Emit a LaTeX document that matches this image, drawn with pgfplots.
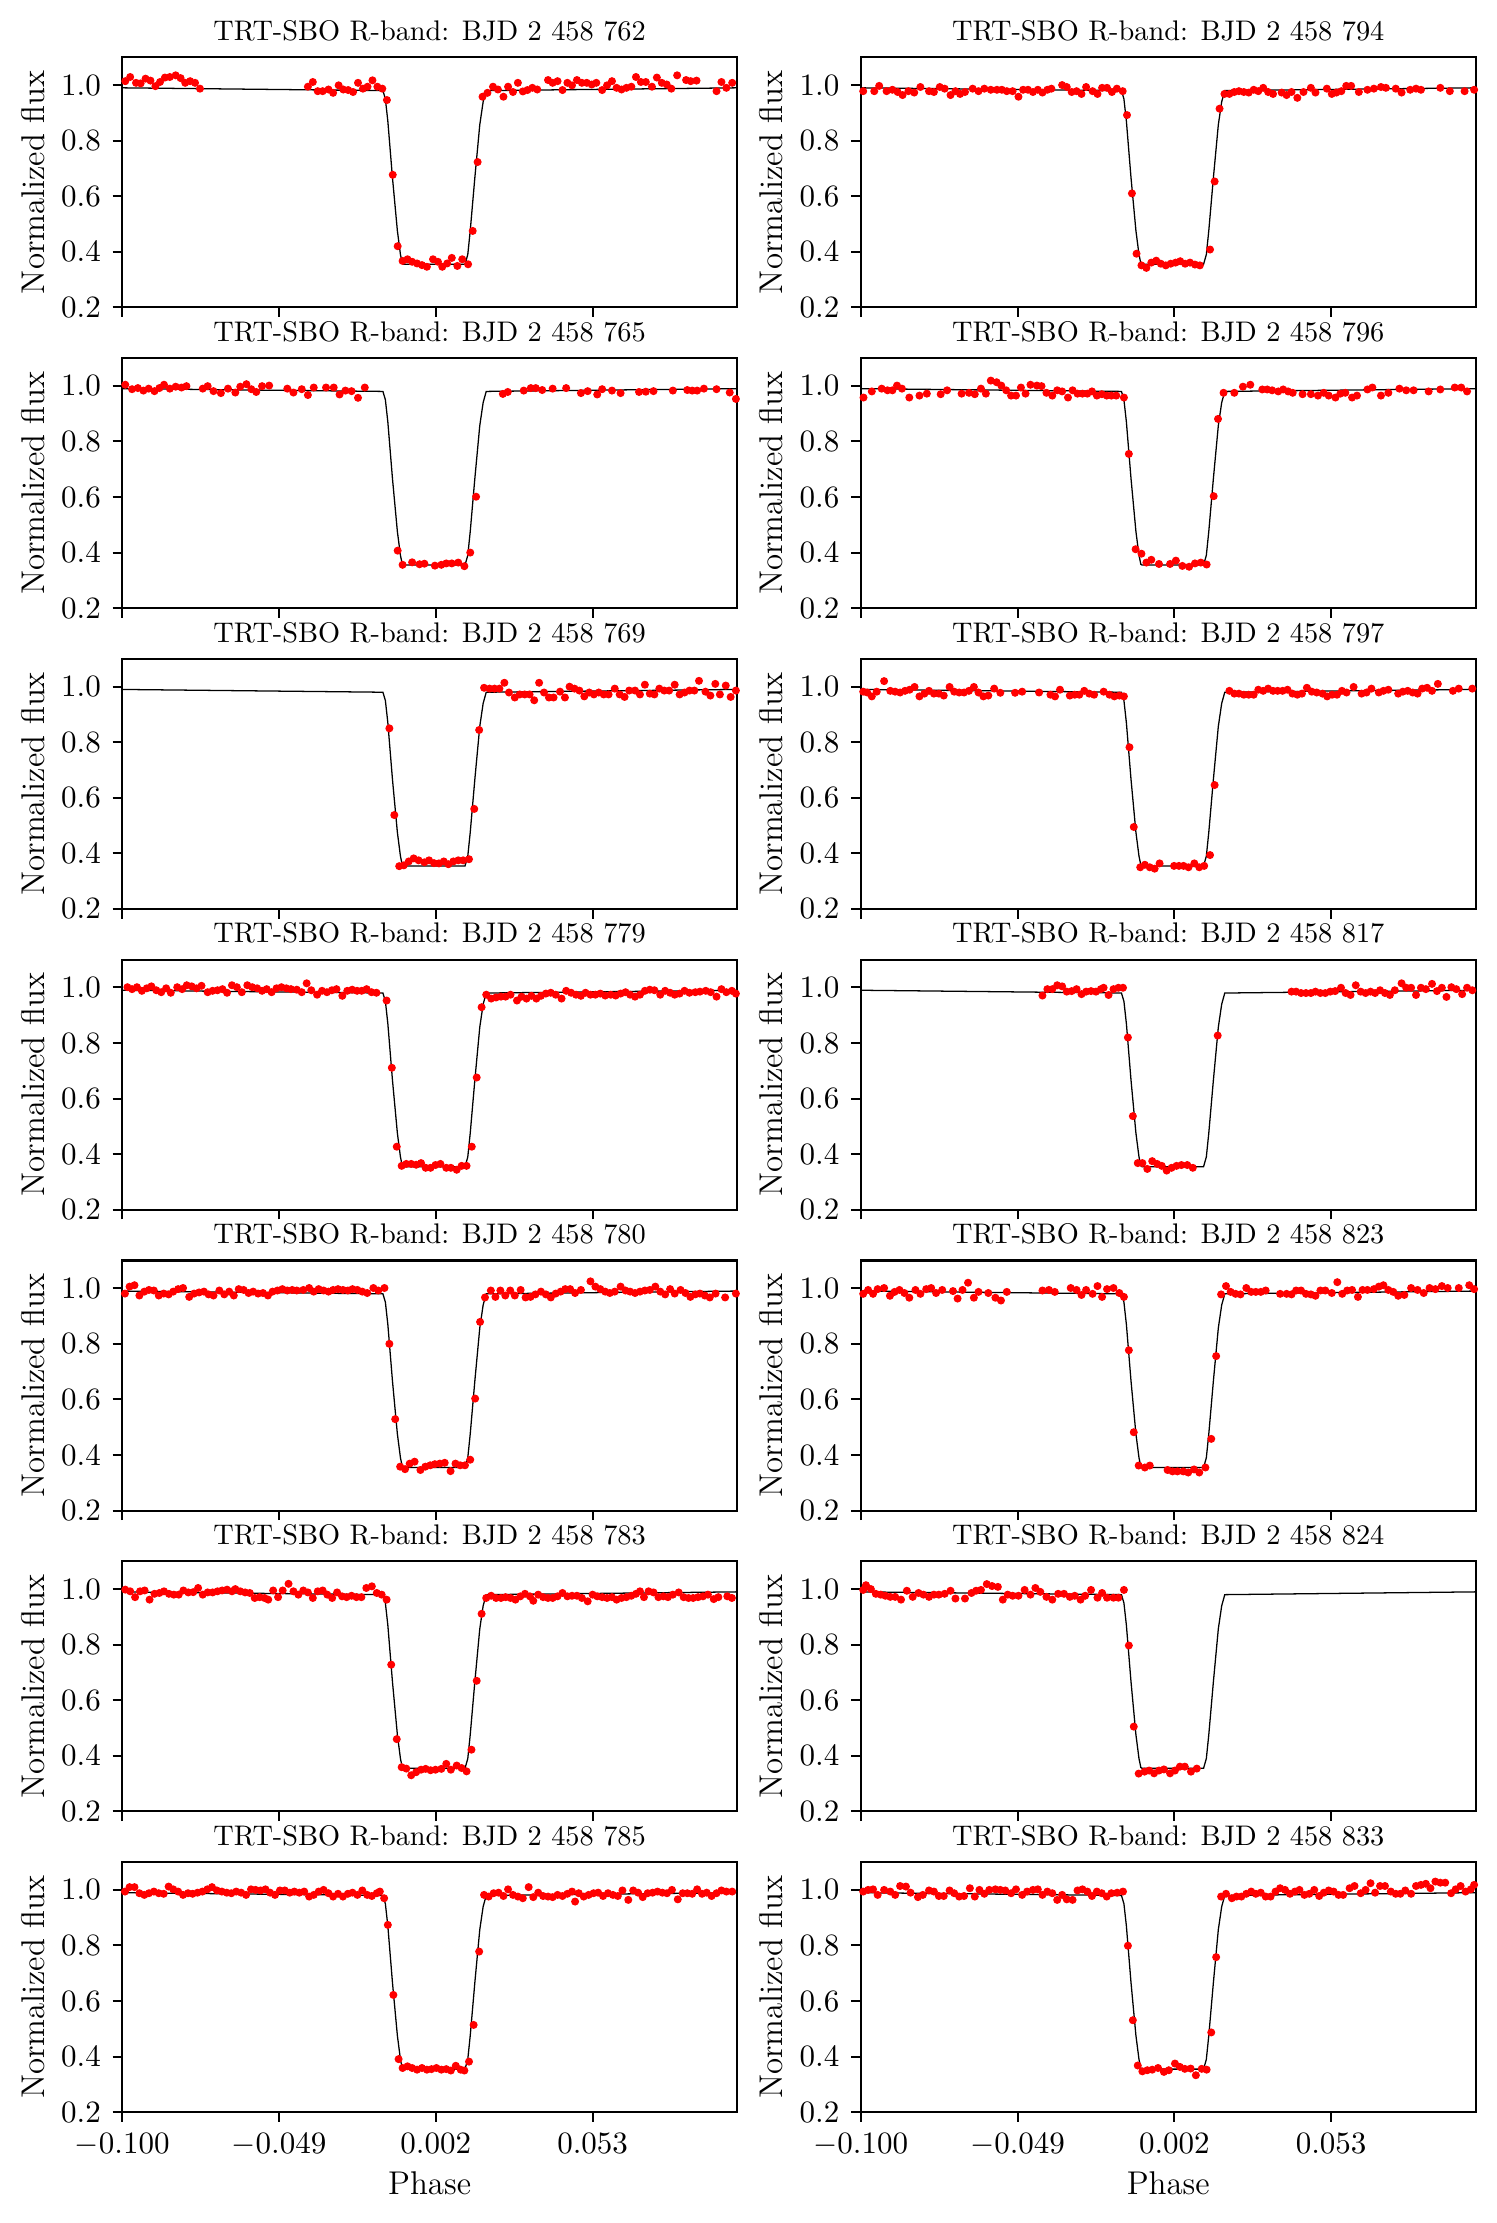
\documentclass[border=0pt]{standalone}
\usepackage{pgfplots}
\pgfplotsset{compat=1.18}
\usepackage{pgfplotstable}

\pgfplotstableread{
x y
-0.1000 0.990
-0.0152 0.980
-0.0144 0.950
-0.0136 0.870
-0.0121 0.667
-0.0105 0.476
-0.0095 0.390
-0.0089 0.358
-0.0085 0.355
0.0115 0.355
0.0124 0.390
0.0132 0.476
0.0147 0.667
0.0163 0.857
0.0174 0.940
0.0184 0.980
0.1000 0.990
}\model

% 762
\pgfplotstableread{
x y
-0.0990 1.014
-0.0974 1.029
-0.0955 1.008
-0.0940 1.006
-0.0924 1.023
-0.0908 1.016
-0.0892 0.996
-0.0877 1.011
-0.0861 1.027
-0.0845 1.029
-0.0826 1.035
-0.0810 1.025
-0.0795 1.008
-0.0779 1.014
-0.0763 1.008
-0.0747 0.987
-0.0396 0.994
-0.0380 1.011
-0.0364 0.978
-0.0348 0.978
-0.0329 0.984
-0.0314 0.972
-0.0296 0.999
-0.0281 0.984
-0.0265 0.982
-0.0249 0.975
-0.0233 1.008
-0.0217 0.987
-0.0202 0.994
-0.0186 1.017
-0.0170 0.994
-0.0154 0.987
-0.0139 0.946
-0.0120 0.677
-0.0104 0.420
-0.0088 0.367
-0.0072 0.373
-0.0057 0.364
-0.0041 0.358
-0.0025 0.352
-0.0009 0.346
0.0011 0.373
0.0027 0.364
0.0041 0.346
0.0057 0.358
0.0072 0.378
0.0090 0.349
0.0106 0.373
0.0125 0.355
0.0140 0.475
0.0156 0.723
0.0172 0.958
0.0188 0.972
0.0206 0.994
0.0222 0.984
0.0240 0.958
0.0255 0.994
0.0271 0.975
0.0287 1.008
0.0303 0.977
0.0318 0.982
0.0334 0.990
0.0350 0.984
0.0385 1.018
0.0400 1.008
0.0416 1.014
0.0432 0.982
0.0448 1.008
0.0463 0.999
0.0479 1.018
0.0495 1.008
0.0511 1.008
0.0527 1.002
0.0542 1.008
0.0561 0.982
0.0577 0.999
0.0593 1.014
0.0608 0.990
0.0624 0.984
0.0640 0.990
0.0656 0.994
0.0671 1.029
0.0687 1.011
0.0703 1.011
0.0723 0.994
0.0739 1.027
0.0755 1.008
0.0771 1.002
0.0786 0.987
0.0805 1.035
0.0834 1.018
0.0849 1.014
0.0868 1.016
0.0933 0.978
0.0949 1.011
0.0965 0.990
0.0984 1.008
}\tA

% 765
\pgfplotstableread{
x y
-0.0990 1.004
-0.0968 0.988
-0.0949 0.992
-0.0931 0.983
-0.0914 0.990
-0.0895 0.981
-0.0879 0.992
-0.0864 1.004
-0.0845 0.990
-0.0826 0.997
-0.0807 0.994
-0.0791 0.999
-0.0738 0.990
-0.0722 0.999
-0.0703 0.981
-0.0679 0.974
-0.0656 0.990
-0.0632 0.976
-0.0616 0.997
-0.0596 1.006
-0.0580 0.988
-0.0564 0.978
-0.0545 0.999
-0.0522 1.001
-0.0463 0.990
-0.0443 0.976
-0.0416 0.988
-0.0396 0.967
-0.0377 0.994
-0.0337 0.994
-0.0312 0.994
-0.0293 0.969
-0.0274 0.983
-0.0254 0.981
-0.0233 0.957
-0.0211 0.994
-0.0104 0.407
-0.0088 0.356
-0.0057 0.365
-0.0033 0.358
-0.0017 0.360
0.0017 0.353
0.0038 0.356
0.0054 0.361
0.0072 0.361
0.0093 0.364
0.0113 0.351
0.0132 0.400
0.0151 0.601
0.0238 0.971
0.0254 0.978
0.0306 0.983
0.0329 0.992
0.0345 0.992
0.0366 0.985
0.0400 0.990
0.0444 0.992
0.0492 0.974
0.0514 0.981
0.0545 0.969
0.0561 0.988
0.0593 0.983
0.0621 0.974
0.0681 0.978
0.0703 0.979
0.0728 0.981
0.0791 0.983
0.0838 0.985
0.0854 0.983
0.0870 0.983
0.0892 0.990
0.0933 0.988
0.0976 0.976
0.0996 0.953
}\tB

% 769
\pgfplotstableread{
x y
-0.0131 0.850
-0.0115 0.538
-0.0099 0.354
-0.0084 0.357
-0.0068 0.371
-0.0052 0.382
-0.0036 0.375
-0.0017 0.368
-0.0002 0.375
0.0014 0.365
0.0030 0.364
0.0046 0.371
0.0061 0.361
0.0077 0.371
0.0093 0.375
0.0109 0.375
0.0128 0.379
0.0145 0.560
0.0161 0.844
0.0177 0.996
0.0195 0.993
0.0211 0.993
0.0227 0.993
0.0243 1.014
0.0258 0.979
0.0277 0.961
0.0293 0.972
0.0309 0.972
0.0325 0.972
0.0340 0.951
0.0356 1.014
0.0372 0.979
0.0388 0.961
0.0403 0.961
0.0424 0.982
0.0440 0.961
0.0455 1.000
0.0471 0.993
0.0487 0.986
0.0503 0.965
0.0519 0.979
0.0534 0.972
0.0550 0.979
0.0566 0.972
0.0582 0.972
0.0602 0.993
0.0618 0.972
0.0634 0.963
0.0649 0.986
0.0668 0.986
0.0684 0.972
0.0700 1.007
0.0716 0.975
0.0731 0.972
0.0747 0.993
0.0763 0.986
0.0779 0.986
0.0797 1.007
0.0813 0.972
0.0829 0.979
0.0845 0.986
0.0861 0.986
0.0876 1.021
0.0897 0.982
0.0913 0.968
0.0929 1.010
0.0944 0.972
0.0963 1.004
0.0979 0.963
0.0996 0.986
}\tC

% 779
\pgfplotstableread{
x y
-0.0983 1.001
-0.0968 0.994
-0.0952 1.001
-0.0936 0.988
-0.0920 0.997
-0.0905 1.004
-0.0889 0.990
-0.0873 0.983
-0.0857 0.997
-0.0842 0.981
-0.0821 1.001
-0.0805 0.994
-0.0790 1.008
-0.0774 1.004
-0.0758 0.997
-0.0742 1.006
-0.0722 0.983
-0.0706 0.988
-0.0690 0.990
-0.0674 0.994
-0.0659 0.981
-0.0643 1.008
-0.0627 1.001
-0.0611 0.983
-0.0593 1.008
-0.0577 1.001
-0.0561 0.997
-0.0545 0.988
-0.0530 0.994
-0.0514 0.983
-0.0498 0.997
-0.0482 1.001
-0.0466 0.997
-0.0451 0.994
-0.0432 0.992
-0.0416 0.983
-0.0400 1.015
-0.0385 0.990
-0.0366 0.974
-0.0350 0.988
-0.0334 0.983
-0.0318 0.990
-0.0303 0.994
-0.0284 0.970
-0.0268 0.988
-0.0252 0.992
-0.0236 0.988
-0.0221 0.988
-0.0205 0.994
-0.0189 0.983
-0.0173 0.981
-0.0140 0.953
-0.0123 0.711
-0.0107 0.427
-0.0091 0.358
-0.0076 0.365
-0.0060 0.365
-0.0044 0.362
-0.0028 0.368
-0.0013 0.351
0.0003 0.351
0.0019 0.361
0.0035 0.365
0.0054 0.351
0.0069 0.351
0.0088 0.344
0.0104 0.358
0.0120 0.358
0.0137 0.427
0.0153 0.676
0.0169 0.929
0.0184 0.974
0.0200 0.960
0.0216 0.964
0.0232 0.967
0.0247 0.967
0.0263 0.974
0.0284 0.953
0.0299 0.967
0.0315 0.960
0.0331 0.970
0.0347 0.960
0.0362 0.970
0.0378 0.978
0.0394 0.981
0.0410 0.974
0.0429 0.960
0.0444 0.988
0.0460 0.981
0.0476 0.974
0.0492 0.970
0.0507 0.981
0.0523 0.974
0.0539 0.974
0.0555 0.978
0.0571 0.971
0.0589 0.974
0.0605 0.971
0.0621 0.978
0.0637 0.983
0.0652 0.974
0.0668 0.967
0.0684 0.974
0.0700 0.988
0.0716 0.992
0.0731 0.990
0.0750 0.974
0.0766 0.988
0.0782 0.981
0.0797 0.974
0.0813 0.978
0.0829 0.988
0.0845 0.981
0.0864 0.983
0.0879 0.985
0.0898 0.988
0.0914 0.983
0.0933 0.967
0.0949 0.994
0.0965 0.983
0.0983 0.988
0.0996 0.978
}\tD

% 780
\pgfplotstableread{
x y
-0.0991 0.981
-0.0976 1.006
-0.0960 1.011
-0.0944 0.974
-0.0928 0.988
-0.0913 0.994
-0.0897 0.992
-0.0881 0.974
-0.0865 0.981
-0.0849 0.978
-0.0834 0.988
-0.0818 0.997
-0.0802 1.001
-0.0782 0.969
-0.0766 0.981
-0.0750 0.985
-0.0734 0.988
-0.0719 0.978
-0.0703 0.974
-0.0684 0.992
-0.0668 0.978
-0.0652 0.988
-0.0637 0.974
-0.0621 0.997
-0.0605 0.994
-0.0589 0.983
-0.0574 0.988
-0.0558 0.981
-0.0542 0.983
-0.0526 0.974
-0.0511 0.988
-0.0495 0.992
-0.0479 0.997
-0.0463 0.992
-0.0447 0.994
-0.0432 0.992
-0.0411 0.994
-0.0392 1.001
-0.0377 0.988
-0.0361 0.997
-0.0345 0.992
-0.0329 0.988
-0.0314 0.994
-0.0298 0.997
-0.0282 0.994
-0.0266 0.992
-0.0251 0.997
-0.0235 0.994
-0.0219 0.988
-0.0203 0.983
-0.0183 1.001
-0.0167 0.992
-0.0147 1.001
-0.0131 0.800
-0.0112 0.529
-0.0096 0.358
-0.0080 0.349
-0.0065 0.369
-0.0049 0.376
-0.0030 0.346
-0.0014 0.358
0.0002 0.363
0.0017 0.367
0.0033 0.369
0.0049 0.372
0.0068 0.342
0.0084 0.369
0.0099 0.363
0.0115 0.363
0.0132 0.383
0.0148 0.603
0.0164 0.879
0.0180 0.967
0.0199 0.992
0.0214 0.969
0.0230 0.992
0.0246 0.974
0.0262 0.992
0.0277 0.974
0.0296 0.994
0.0312 0.967
0.0328 0.969
0.0344 0.978
0.0362 0.988
0.0378 0.978
0.0394 0.967
0.0410 0.981
0.0426 0.988
0.0441 0.997
0.0457 0.997
0.0473 0.983
0.0492 0.994
0.0523 1.025
0.0539 1.006
0.0555 0.997
0.0571 0.988
0.0586 0.983
0.0602 0.988
0.0621 1.006
0.0637 0.992
0.0652 0.988
0.0668 0.983
0.0684 0.988
0.0700 0.992
0.0716 0.994
0.0734 1.006
0.0750 0.988
0.0766 0.978
0.0782 0.997
0.0797 0.981
0.0816 0.994
0.0832 0.983
0.0848 0.969
0.0864 0.978
0.0879 0.981
0.0895 0.974
0.0911 0.967
0.0930 0.981
0.0961 0.967
0.0996 0.981
}\tE

% 783
\pgfplotstableread{
x y
-0.0990 0.998
-0.0974 0.992
-0.0958 0.971
-0.0942 0.992
-0.0927 0.995
-0.0911 0.962
-0.0895 0.983
-0.0879 0.986
-0.0864 0.992
-0.0848 0.983
-0.0832 0.980
-0.0816 0.980
-0.0801 0.995
-0.0785 0.988
-0.0769 0.989
-0.0753 1.004
-0.0738 0.980
-0.0722 0.988
-0.0706 0.988
-0.0690 0.992
-0.0675 0.995
-0.0659 0.998
-0.0643 0.992
-0.0632 1.000
-0.0616 0.992
-0.0600 0.988
-0.0585 0.986
-0.0569 0.968
-0.0553 0.971
-0.0537 0.968
-0.0525 0.962
-0.0509 0.995
-0.0493 0.971
-0.0478 0.995
-0.0459 1.019
-0.0443 0.992
-0.0427 0.980
-0.0411 0.995
-0.0396 0.988
-0.0380 0.968
-0.0364 0.992
-0.0348 0.995
-0.0333 0.980
-0.0317 0.968
-0.0301 0.988
-0.0285 0.974
-0.0270 0.971
-0.0254 0.976
-0.0238 0.971
-0.0222 0.971
-0.0206 1.004
-0.0188 1.010
-0.0172 0.986
-0.0156 0.980
-0.0140 0.962
-0.0125 0.728
-0.0107 0.460
-0.0091 0.359
-0.0076 0.354
-0.0060 0.330
-0.0044 0.341
-0.0028 0.350
-0.0013 0.353
0.0003 0.348
0.0019 0.350
0.0038 0.353
0.0054 0.371
0.0069 0.350
0.0088 0.365
0.0104 0.356
0.0120 0.344
0.0136 0.422
0.0153 0.670
0.0169 0.911
0.0184 0.968
0.0200 0.976
0.0216 0.968
0.0232 0.968
0.0247 0.971
0.0263 0.968
0.0279 0.962
0.0295 0.974
0.0310 0.983
0.0326 0.974
0.0337 0.958
0.0353 0.980
0.0369 0.971
0.0385 0.968
0.0400 0.968
0.0416 0.974
0.0432 0.986
0.0448 0.974
0.0463 0.976
0.0479 0.976
0.0495 0.968
0.0514 0.956
0.0530 0.980
0.0545 0.974
0.0561 0.971
0.0577 0.968
0.0593 0.971
0.0608 0.962
0.0624 0.968
0.0640 0.971
0.0656 0.976
0.0671 0.983
0.0684 0.992
0.0697 0.971
0.0712 0.992
0.0728 0.988
0.0744 0.971
0.0760 0.974
0.0775 0.971
0.0791 0.980
0.0810 0.988
0.0826 0.971
0.0842 0.968
0.0857 0.968
0.0873 0.971
0.0889 0.974
0.0905 0.980
0.0924 0.964
0.0939 0.971
0.0968 0.974
0.0983 0.968
}\tF

% 785
\pgfplotstableread{
x y
-0.0991 0.994
-0.0976 1.010
-0.0960 1.010
-0.0944 0.988
-0.0928 0.982
-0.0913 0.988
-0.0897 0.994
-0.0881 0.988
-0.0865 0.986
-0.0849 1.012
-0.0834 1.002
-0.0818 0.994
-0.0802 0.982
-0.0786 0.988
-0.0771 0.986
-0.0755 0.990
-0.0739 0.994
-0.0723 1.002
-0.0708 1.010
-0.0692 0.998
-0.0676 0.994
-0.0660 0.990
-0.0645 0.988
-0.0629 0.994
-0.0613 0.990
-0.0597 0.982
-0.0581 1.002
-0.0566 1.000
-0.0550 0.998
-0.0534 1.002
-0.0519 0.990
-0.0503 0.982
-0.0487 0.998
-0.0471 0.998
-0.0455 0.990
-0.0440 0.994
-0.0424 0.990
-0.0408 0.994
-0.0392 0.976
-0.0377 0.982
-0.0361 0.994
-0.0345 1.000
-0.0329 0.988
-0.0314 0.976
-0.0298 0.986
-0.0282 0.976
-0.0266 0.986
-0.0251 0.990
-0.0235 0.982
-0.0219 0.998
-0.0203 0.982
-0.0188 0.978
-0.0172 0.988
-0.0162 0.994
-0.0148 0.970
-0.0136 0.874
-0.0118 0.622
-0.0101 0.391
-0.0088 0.359
-0.0072 0.365
-0.0057 0.359
-0.0041 0.353
-0.0025 0.359
-0.0009 0.353
0.0006 0.355
0.0022 0.359
0.0038 0.353
0.0054 0.355
0.0069 0.350
0.0085 0.367
0.0101 0.353
0.0113 0.350
0.0128 0.382
0.0143 0.514
0.0161 0.778
0.0177 0.982
0.0192 0.976
0.0208 0.988
0.0224 0.990
0.0240 0.978
0.0255 1.002
0.0271 0.982
0.0287 0.976
0.0303 0.970
0.0322 1.010
0.0337 0.974
0.0353 0.990
0.0369 0.978
0.0385 0.976
0.0400 0.974
0.0416 0.982
0.0432 0.978
0.0448 0.986
0.0463 0.994
0.0473 0.958
0.0485 0.988
0.0501 0.976
0.0517 0.982
0.0533 0.988
0.0548 0.990
0.0564 0.978
0.0580 0.988
0.0596 0.982
0.0612 0.978
0.0627 0.998
0.0646 0.964
0.0662 0.998
0.0678 0.990
0.0693 0.974
0.0709 0.988
0.0725 0.990
0.0741 0.994
0.0757 0.990
0.0772 0.988
0.0788 1.000
0.0807 0.966
0.0823 0.988
0.0838 0.988
0.0854 0.986
0.0870 1.002
0.0886 0.986
0.0901 0.990
0.0917 0.978
0.0933 0.988
0.0949 0.998
0.0965 0.994
0.0984 0.994
}\tG

% 794
\pgfplotstableread{
x y
-0.0992 0.978
-0.0956 0.978
-0.0940 0.997
-0.0916 0.978
-0.0897 0.983
-0.0880 0.975
-0.0864 0.964
-0.0845 0.978
-0.0826 0.973
-0.0806 0.993
-0.0778 0.978
-0.0762 0.975
-0.0743 0.993
-0.0727 0.987
-0.0708 0.964
-0.0692 0.978
-0.0677 0.968
-0.0661 0.975
-0.0636 0.987
-0.0617 0.978
-0.0598 0.987
-0.0577 0.983
-0.0557 0.983
-0.0541 0.983
-0.0525 0.978
-0.0506 0.978
-0.0487 0.958
-0.0472 0.983
-0.0456 0.983
-0.0440 0.975
-0.0424 0.983
-0.0409 0.973
-0.0393 0.983
-0.0380 0.987
-0.0345 1.000
-0.0330 0.993
-0.0314 0.975
-0.0298 0.978
-0.0282 0.968
-0.0267 0.993
-0.0246 0.978
-0.0230 0.968
-0.0215 0.990
-0.0199 0.990
-0.0183 0.975
-0.0167 0.987
-0.0148 0.978
-0.0134 0.892
-0.0118 0.610
-0.0103 0.393
-0.0087 0.351
-0.0071 0.342
-0.0055 0.361
-0.0039 0.368
-0.0024 0.357
-0.0008 0.351
0.0008 0.357
0.0024 0.361
0.0039 0.366
0.0055 0.357
0.0071 0.361
0.0087 0.354
0.0103 0.351
0.0136 0.408
0.0151 0.653
0.0167 0.915
0.0183 0.968
0.0199 0.968
0.0215 0.975
0.0230 0.978
0.0246 0.975
0.0262 0.973
0.0278 0.983
0.0293 0.978
0.0309 0.990
0.0325 0.975
0.0341 0.968
0.0369 0.973
0.0385 0.964
0.0401 0.975
0.0420 0.954
0.0440 0.975
0.0464 0.990
0.0479 0.973
0.0516 0.987
0.0532 0.968
0.0547 0.973
0.0563 0.978
0.0579 0.997
0.0595 0.997
0.0620 0.975
0.0648 0.983
0.0669 0.987
0.0692 0.993
0.0708 0.990
0.0740 0.987
0.0759 0.973
0.0787 0.983
0.0806 0.987
0.0822 0.983
0.0885 0.990
0.0916 0.978
0.0964 0.978
0.0995 0.983
}\tH

% 796
\pgfplotstableread{
x y
-0.0991 0.958
-0.0964 0.980
-0.0932 0.990
-0.0913 0.984
-0.0897 0.984
-0.0882 1.001
-0.0866 0.990
-0.0842 0.958
-0.0809 0.965
-0.0785 0.972
-0.0740 0.970
-0.0719 0.984
-0.0672 0.972
-0.0648 0.975
-0.0629 0.970
-0.0609 0.990
-0.0593 0.972
-0.0577 1.019
-0.0558 1.013
-0.0543 1.001
-0.0527 0.984
-0.0511 0.965
-0.0495 0.965
-0.0479 0.994
-0.0464 0.972
-0.0448 1.004
-0.0427 1.001
-0.0412 0.999
-0.0396 0.975
-0.0377 0.965
-0.0361 0.984
-0.0345 0.980
-0.0326 0.958
-0.0311 0.984
-0.0295 0.972
-0.0279 0.972
-0.0263 0.972
-0.0248 0.980
-0.0232 0.965
-0.0216 0.970
-0.0200 0.965
-0.0185 0.965
-0.0169 0.965
-0.0144 0.958
-0.0128 0.755
-0.0106 0.412
-0.0087 0.396
-0.0071 0.364
-0.0055 0.374
-0.0030 0.359
0.0006 0.359
0.0025 0.371
0.0046 0.352
0.0068 0.349
0.0087 0.361
0.0106 0.364
0.0125 0.357
0.0148 0.603
0.0162 0.881
0.0180 0.975
0.0215 0.975
0.0243 0.997
0.0267 1.004
0.0306 0.987
0.0322 0.987
0.0338 0.984
0.0358 0.980
0.0374 0.987
0.0390 0.980
0.0405 0.975
0.0437 0.970
0.0464 0.970
0.0487 0.965
0.0506 0.975
0.0522 0.965
0.0544 0.958
0.0560 0.972
0.0576 0.975
0.0598 0.958
0.0614 0.965
0.0648 0.987
0.0664 0.994
0.0692 0.965
0.0716 0.975
0.0752 0.990
0.0774 0.984
0.0798 0.984
0.0847 0.980
0.0885 0.987
0.0932 0.994
0.0953 0.994
0.0972 0.980
}\tI

% 797
\pgfplotstableread{
x y
-0.0992 0.982
-0.0979 0.979
-0.0964 0.965
-0.0948 0.982
-0.0924 1.020
-0.0904 0.985
-0.0888 0.982
-0.0872 0.979
-0.0856 0.985
-0.0841 0.989
-0.0825 0.999
-0.0809 0.965
-0.0793 0.975
-0.0778 0.985
-0.0762 0.975
-0.0746 0.975
-0.0730 0.968
-0.0711 0.999
-0.0696 0.982
-0.0680 0.979
-0.0664 0.979
-0.0648 0.985
-0.0632 0.999
-0.0617 0.979
-0.0601 0.965
-0.0585 0.968
-0.0566 0.993
-0.0546 0.978
-0.0498 0.978
-0.0475 0.982
-0.0420 0.979
-0.0383 0.971
-0.0368 0.965
-0.0352 0.989
-0.0320 0.968
-0.0304 0.971
-0.0289 0.971
-0.0273 0.985
-0.0257 0.975
-0.0241 0.971
-0.0210 0.982
-0.0191 0.971
-0.0175 0.965
-0.0159 0.968
-0.0144 0.965
-0.0126 0.782
-0.0112 0.495
-0.0091 0.350
-0.0076 0.359
-0.0060 0.350
-0.0044 0.345
-0.0028 0.364
0.0019 0.355
0.0035 0.355
0.0050 0.355
0.0066 0.350
0.0085 0.364
0.0101 0.350
0.0117 0.355
0.0136 0.394
0.0151 0.646
0.0199 0.985
0.0215 0.975
0.0230 0.975
0.0246 0.971
0.0262 0.971
0.0278 0.971
0.0293 0.989
0.0309 0.985
0.0325 0.993
0.0341 0.985
0.0356 0.985
0.0372 0.985
0.0388 0.989
0.0404 0.975
0.0420 0.971
0.0435 0.975
0.0451 0.996
0.0467 0.982
0.0483 0.979
0.0502 0.975
0.0517 0.965
0.0533 0.971
0.0549 0.971
0.0565 0.985
0.0580 0.979
0.0603 0.999
0.0629 0.975
0.0645 0.979
0.0661 0.993
0.0685 0.979
0.0700 0.985
0.0716 0.989
0.0748 0.975
0.0763 0.982
0.0779 0.985
0.0795 0.979
0.0811 0.975
0.0826 0.993
0.0842 0.996
0.0858 0.985
0.0877 1.010
0.0926 0.985
0.0945 0.993
0.0989 0.993
}\tJ

% 817
\pgfplotstableread{
x y
-0.0409 0.971
-0.0393 0.994
-0.0377 0.994
-0.0361 1.008
-0.0345 1.004
-0.0330 0.985
-0.0314 0.987
-0.0298 0.994
-0.0282 0.976
-0.0267 0.985
-0.0251 0.987
-0.0235 0.985
-0.0219 0.994
-0.0210 0.999
-0.0194 0.973
-0.0178 0.994
-0.0162 0.999
-0.0147 0.999
-0.0131 0.820
-0.0115 0.537
-0.0099 0.368
-0.0084 0.368
-0.0068 0.347
-0.0052 0.375
-0.0036 0.365
-0.0021 0.358
-0.0005 0.341
0.0011 0.351
0.0027 0.358
0.0043 0.361
0.0062 0.361
0.0080 0.351
0.0161 0.827
0.0401 0.985
0.0416 0.985
0.0432 0.980
0.0448 0.980
0.0464 0.980
0.0479 0.985
0.0495 0.980
0.0511 0.980
0.0527 0.985
0.0543 0.987
0.0562 0.999
0.0577 0.980
0.0593 0.973
0.0610 1.008
0.0626 0.985
0.0642 0.980
0.0658 0.985
0.0673 0.980
0.0689 0.990
0.0705 0.980
0.0721 0.973
0.0737 0.990
0.0759 1.015
0.0774 0.999
0.0790 0.999
0.0806 0.973
0.0822 0.999
0.0838 0.994
0.0858 1.013
0.0874 0.987
0.0890 0.999
0.0905 0.966
0.0921 1.001
0.0937 0.994
0.0956 0.976
0.0972 0.999
0.0989 0.990
}\tK

% 823
\pgfplotstableread{
x y
-0.0992 0.980
-0.0976 0.994
-0.0960 0.980
-0.0945 0.997
-0.0924 1.001
-0.0905 0.973
-0.0890 0.987
-0.0874 0.994
-0.0858 0.983
-0.0842 0.966
-0.0822 0.994
-0.0806 0.980
-0.0787 0.997
-0.0771 1.001
-0.0755 0.983
-0.0735 0.994
-0.0700 0.990
-0.0685 0.963
-0.0669 0.994
-0.0651 1.020
-0.0632 0.966
-0.0617 0.987
-0.0585 0.983
-0.0562 0.966
-0.0544 0.956
-0.0525 0.987
-0.0409 0.992
-0.0388 0.994
-0.0369 0.987
-0.0317 1.001
-0.0298 0.994
-0.0282 0.976
-0.0267 0.994
-0.0246 0.980
-0.0230 1.008
-0.0215 0.969
-0.0199 0.997
-0.0178 1.001
-0.0159 0.983
-0.0144 0.969
-0.0128 0.777
-0.0112 0.482
-0.0096 0.362
-0.0076 0.355
-0.0060 0.362
-0.0002 0.346
0.0014 0.341
0.0030 0.341
0.0049 0.341
0.0065 0.337
0.0084 0.348
0.0101 0.337
0.0121 0.355
0.0140 0.458
0.0156 0.756
0.0172 0.978
0.0188 1.008
0.0203 0.987
0.0219 0.980
0.0235 0.978
0.0254 1.001
0.0270 0.987
0.0285 0.987
0.0301 0.987
0.0317 0.992
0.0364 0.980
0.0385 0.980
0.0401 0.978
0.0416 0.992
0.0432 0.992
0.0448 0.980
0.0464 0.978
0.0479 0.973
0.0495 0.992
0.0511 0.992
0.0532 0.983
0.0550 1.022
0.0566 0.980
0.0582 0.992
0.0598 0.994
0.0617 0.969
0.0632 0.994
0.0648 0.994
0.0669 0.997
0.0685 1.006
0.0700 1.011
0.0716 0.994
0.0732 0.987
0.0748 0.973
0.0768 0.976
0.0790 1.001
0.0811 0.994
0.0831 0.983
0.0850 1.001
0.0869 0.997
0.0890 1.008
0.0909 1.001
0.0945 1.001
0.0979 1.011
0.0995 0.997
}\tL

% 824
\pgfplotstableread{
x y
-0.0992 0.997
-0.0983 1.014
-0.0967 1.000
-0.0951 0.983
-0.0935 0.980
-0.0920 0.976
-0.0904 0.972
-0.0888 0.972
-0.0869 0.962
-0.0850 0.994
-0.0831 0.972
-0.0812 0.986
-0.0796 0.980
-0.0778 0.972
-0.0762 0.980
-0.0746 0.980
-0.0727 0.983
-0.0708 0.994
-0.0692 0.966
-0.0661 0.966
-0.0640 0.986
-0.0625 0.994
-0.0609 0.997
-0.0590 1.018
-0.0573 1.011
-0.0554 1.008
-0.0538 0.962
-0.0522 0.980
-0.0506 0.976
-0.0487 0.976
-0.0467 0.997
-0.0448 0.980
-0.0432 1.004
-0.0416 0.990
-0.0396 0.972
-0.0377 0.962
-0.0358 0.983
-0.0339 0.983
-0.0320 0.972
-0.0304 0.976
-0.0285 0.962
-0.0270 0.976
-0.0251 0.997
-0.0230 0.969
-0.0215 0.986
-0.0199 0.969
-0.0178 0.969
-0.0162 0.969
-0.0144 0.997
-0.0128 0.797
-0.0112 0.505
-0.0096 0.336
-0.0077 0.343
-0.0062 0.347
-0.0046 0.337
-0.0030 0.347
-0.0014 0.351
0.0006 0.337
0.0022 0.347
0.0038 0.361
0.0054 0.361
0.0074 0.343
0.0093 0.354
}\tM

% 833
\pgfplotstableread{
x y
-0.0992 0.994
-0.0976 1.000
-0.0960 1.002
-0.0945 0.982
-0.0924 1.000
-0.0904 0.994
-0.0888 0.982
-0.0872 1.014
-0.0853 1.012
-0.0838 0.990
-0.0814 0.974
-0.0798 0.982
-0.0778 0.998
-0.0762 0.994
-0.0746 0.978
-0.0730 0.978
-0.0711 0.998
-0.0696 0.988
-0.0680 0.976
-0.0664 0.978
-0.0645 1.006
-0.0629 0.976
-0.0614 1.000
-0.0598 0.986
-0.0582 1.000
-0.0562 1.002
-0.0546 1.000
-0.0530 0.998
-0.0511 0.988
-0.0495 1.002
-0.0475 0.982
-0.0459 0.994
-0.0440 1.000
-0.0424 1.002
-0.0409 0.982
-0.0393 0.994
-0.0377 0.988
-0.0361 0.964
-0.0345 0.982
-0.0330 0.966
-0.0311 0.964
-0.0295 0.998
-0.0279 1.002
-0.0263 0.994
-0.0248 0.978
-0.0232 0.994
-0.0216 0.988
-0.0200 0.976
-0.0185 0.988
-0.0166 0.990
-0.0147 0.994
-0.0131 0.799
-0.0115 0.531
-0.0099 0.368
-0.0084 0.347
-0.0068 0.351
-0.0052 0.353
-0.0033 0.359
-0.0014 0.345
0.0002 0.351
0.0022 0.375
0.0038 0.363
0.0054 0.356
0.0073 0.357
0.0090 0.333
0.0109 0.356
0.0125 0.353
0.0140 0.487
0.0156 0.758
0.0172 0.976
0.0188 0.986
0.0207 0.970
0.0222 0.976
0.0238 0.976
0.0254 0.986
0.0270 0.994
0.0285 0.986
0.0301 0.990
0.0317 0.976
0.0333 0.976
0.0349 0.994
0.0364 1.006
0.0380 1.000
0.0396 0.986
0.0412 0.994
0.0427 1.000
0.0443 0.982
0.0459 0.986
0.0475 1.000
0.0491 0.978
0.0506 0.990
0.0522 0.998
0.0538 0.994
0.0554 0.982
0.0569 0.982
0.0590 1.006
0.0606 1.014
0.0626 0.988
0.0642 1.000
0.0658 1.024
0.0673 0.990
0.0689 1.014
0.0705 1.014
0.0724 0.994
0.0740 0.986
0.0755 0.986
0.0771 0.998
0.0790 0.986
0.0806 1.014
0.0822 1.018
0.0838 1.022
0.0853 1.006
0.0869 1.030
0.0885 1.026
0.0901 1.026
0.0920 0.988
0.0935 1.002
0.0951 1.014
0.0967 0.994
0.0984 1.002
0.0995 1.018
}\tN

\pgfplotsset{
  panel/.style={
    scale only axis, width=216.9pt, height=88.2pt, anchor=north west,
    xmin=-0.1, xmax=0.1, ymin=0.2, ymax=1.1,
    xtick={-0.1,-0.049,0.002,0.053},
    ytick={0.2,0.4,0.6,0.8,1.0},
    yticklabels={$0.2$,$0.4$,$0.6$,$0.8$,$1.0$},
    xticklabels={},
    tick pos=left, tick align=outside,
    major tick length=3.4pt,
    every tick/.style={black, line width=0.7pt},
    axis line style={line width=0.75pt},
    tick label style={font=\fontsize{10.95}{13}\selectfont},
    yticklabel style={xshift=-0.6pt},
    xticklabel style={yshift=-0.6pt},
    every axis title/.style={at={(axis description cs:0.5,1.0669)}, anchor=base, font=\fontsize{10}{12}\selectfont},
    every axis y label/.style={at={(axis description cs:-0.1268,0.5)}, rotate=90, anchor=base, font=\fontsize{11.6}{14}\selectfont},
    every axis x label/.style={at={(axis description cs:0.5,-0.329)}, anchor=base, font=\fontsize{11.6}{14}\selectfont},
    ylabel={Normalized flux},
  },
  bottompanel/.style={xticklabels={$-0.100$,$-0.049$,$0.002$,$0.053$}, xlabel={Phase}},
}

\newcommand{\panel}[5]{%
\begin{axis}[panel, at={({#1*260.5pt},{-#2*106.1pt})}, title={TRT-SBO R-band: BJD 2 458 #3}, #5]
\addplot[only marks, mark=*, mark size=1.2pt, color=red, mark options={draw=none, fill=red}] table[x=x,y=y] {#4};
\addplot[black, line width=0.45pt, no marks] table[x=x,y=y] {\model};
\end{axis}}

\begin{document}
\begin{tikzpicture}
\path[use as bounding box] (-43.1pt,20.2pt) rectangle (484.8pt,-763.9pt);
\panel{0}{0}{762}{\tA}{}
\panel{0}{1}{765}{\tB}{}
\panel{0}{2}{769}{\tC}{}
\panel{0}{3}{779}{\tD}{}
\panel{0}{4}{780}{\tE}{}
\panel{0}{5}{783}{\tF}{}
\panel{0}{6}{785}{\tG}{bottompanel}
\panel{1}{0}{794}{\tH}{}
\panel{1}{1}{796}{\tI}{}
\panel{1}{2}{797}{\tJ}{}
\panel{1}{3}{817}{\tK}{}
\panel{1}{4}{823}{\tL}{}
\panel{1}{5}{824}{\tM}{}
\panel{1}{6}{833}{\tN}{bottompanel}
\end{tikzpicture}
\end{document}
